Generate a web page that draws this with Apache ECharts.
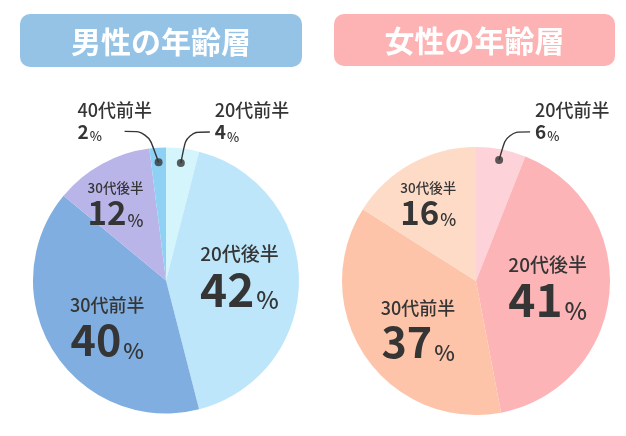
<!DOCTYPE html>
<html>
<head>
<meta charset="utf-8">
<script src="https://cdn.jsdelivr.net/npm/echarts@6/dist/echarts.min.js"></script>
<style>
html,body{margin:0;padding:0;background:#ffffff;}
#c{width:626px;height:436px;}
</style>
</head>
<body>
<div id="c"></div>
<script>
// ---------- DATA ----------
const chartTitles = ['男性の年齢層', '女性の年齢層'];
const maleCategories = ['20代前半', '20代後半', '30代前半', '30代後半', '40代前半'];
const maleValues = [4, 42, 40, 12, 2];
const femaleCategories = ['20代前半', '20代後半', '30代前半', '30代後半'];
const femaleValues = [6, 41, 37, 16];

// ---------- STYLES ----------
const FONT = '"Noto Sans CJK JP", "Noto Sans", sans-serif';
const TEXT = '#353535';
const maleColors = ['#d3f5fb', '#bde6fa', '#80aee0', '#b9b5e9', '#8fd1f4'];
const femaleColors = ['#fdd2d9', '#fdb4b6', '#fdc4a9', '#fddbc7'];

const rich = {
  nbig: {fontFamily: FONT, fontSize: 19, fontWeight: 500, lineHeight: 24, color: TEXT},
  vbig: {fontFamily: FONT, fontSize: 46, fontWeight: 'bold', lineHeight: 46, color: TEXT},
  pbig: {fontFamily: FONT, fontSize: 24, fontWeight: 500, lineHeight: 29.3, verticalAlign: 'bottom', padding: [0, 0, 0, 2], color: TEXT},
  nmid: {fontFamily: FONT, fontSize: 18, fontWeight: 500, lineHeight: 24, color: TEXT},
  vmid: {fontFamily: FONT, fontSize: 43, fontWeight: 'bold', lineHeight: 44, color: TEXT},
  pmid: {fontFamily: FONT, fontSize: 22, fontWeight: 500, lineHeight: 28, verticalAlign: 'bottom', padding: [0, 0, 0, 2], color: TEXT},
  nsmall: {fontFamily: FONT, fontSize: 13.5, fontWeight: 500, lineHeight: 17, color: TEXT},
  vsmall: {fontFamily: FONT, fontSize: 33, fontWeight: 'bold', lineHeight: 32, color: TEXT},
  psmall: {fontFamily: FONT, fontSize: 17, fontWeight: 500, lineHeight: 19.8, verticalAlign: 'bottom', padding: [0, 0, 0, 1], color: TEXT},
  nout: {fontFamily: FONT, fontSize: 18, fontWeight: 500, lineHeight: 21, color: TEXT},
  vout: {fontFamily: FONT, fontSize: 19, fontWeight: 'bold', lineHeight: 22, color: TEXT},
  pout: {fontFamily: FONT, fontSize: 13, fontWeight: 500, lineHeight: 17.4, verticalAlign: 'bottom', padding: [0, 0, 0, 1], color: TEXT}
};

const charts = [
  {
    title: chartTitles[0], cats: maleCategories, vals: maleValues, colors: maleColors,
    titleColor: '#95c3e6', box: [20, 14, 282, 53], center: [166, 280.5], r: 133, dotRatio: 0.89,
    labels: [
      {kind: 'out', rise: 31, bend: 6, run: 29, tx: 34},
      {kind: 'big', dx: 4, dy: -4.5},
      {kind: 'mid', dx: 0, dy: 8},
      {kind: 'small', dx: -17, dy: -16.5},
      {kind: 'out', rise: 31, bend: -11, run: -34, tx: -81}
    ]
  },
  {
    title: chartTitles[1], cats: femaleCategories, vals: femaleValues, colors: femaleColors,
    titleColor: '#fdb2b4', box: [334, 14, 281, 52], center: [476, 281], r: 134, dotRatio: 0.92,
    labels: [
      {kind: 'out', rise: 28, bend: 8, run: 31, tx: 36},
      {kind: 'big', dx: 2, dy: -1},
      {kind: 'mid', dx: 0, dy: 8},
      {kind: 'small', dx: -14, dy: -17}
    ]
  }
];

function fmt(kind, name, value) {
  const k = kind === 'out' ? 'out' : kind;
  return '{n' + k + '|' + name + '}\n{v' + k + '|' + value + '}{p' + k + '|%}';
}

const series = [];
const polar = [], angleAxis = [], radiusAxis = [];
const graphic = [];

charts.forEach((cfg, ci) => {
  const total = cfg.vals.reduce((a, b) => a + b, 0);
  // main pie
  series.push({
    type: 'pie',
    center: cfg.center,
    radius: cfg.r,
    startAngle: 90,
    clockwise: true,
    silent: true,
    animation: false,
    avoidLabelOverlap: false,
    emphasis: {disabled: true},
    z: 2,
    label: {
      show: true, position: 'inside',
      formatter: p => fmt(cfg.labels[p.dataIndex].kind, p.name, p.value),
      rich: rich
    },
    labelLine: {show: false},
    labelLayout: p => {
      const L = cfg.labels[p.dataIndex];
      if (!L || L.kind === 'out') return {};
      const rc = p.labelRect;
      return {x: rc.x + rc.width / 2 + L.dx, y: rc.y + rc.height / 2 + L.dy, align: 'center', verticalAlign: 'middle'};
    },
    data: cfg.cats.map((c, i) => ({
      name: c, value: cfg.vals[i],
      itemStyle: {color: cfg.colors[i]},
      label: {show: cfg.labels[i].kind !== 'out'}
    }))
  });
  // invisible inner pie to carry the leader lines of small slices
  series.push({
    type: 'pie',
    center: cfg.center,
    radius: cfg.r * cfg.dotRatio,
    startAngle: 90,
    clockwise: true,
    silent: true,
    animation: false,
    avoidLabelOverlap: false,
    emphasis: {disabled: true},
    z: 3,
    itemStyle: {color: 'rgba(0,0,0,0)', borderWidth: 0},
    label: {
      show: true, position: 'outside', alignTo: 'none',
      formatter: p => fmt('out', p.name, p.value),
      rich: rich
    },
    labelLine: {show: true, length: 20, length2: 20, smooth: 0.35, lineStyle: {color: TEXT, width: 1.4}},
    labelLayout: p => {
      const L = cfg.labels[p.dataIndex];
      if (!L || L.kind !== 'out' || !p.labelLinePoints) return {};
      const s = p.labelLinePoints[0];
      const ly = s[1] - L.rise;
      return {
        labelLinePoints: [s, [s[0] + L.bend, ly], [s[0] + L.run, ly]],
        x: s[0] + L.tx, y: ly - 10.5, align: 'left', verticalAlign: 'middle'
      };
    },
    data: cfg.cats.map((c, i) => {
      const out = cfg.labels[i].kind === 'out';
      return {
        name: c, value: cfg.vals[i],
        label: {show: out},
        labelLine: {show: out}
      };
    })
  });
  // polar system for the anchor dots
  polar.push({center: cfg.center, radius: cfg.r});
  angleAxis.push({polarIndex: ci, type: 'value', min: 0, max: total, startAngle: 90, clockwise: true, show: false});
  radiusAxis.push({polarIndex: ci, type: 'value', min: 0, max: 1, show: false});
  let cum = 0;
  const dots = [];
  cfg.vals.forEach((v, i) => {
    if (cfg.labels[i].kind === 'out') dots.push([cfg.dotRatio, cum + v / 2]);
    cum += v;
  });
  series.push({
    type: 'scatter', coordinateSystem: 'polar', polarIndex: ci,
    data: dots, symbol: 'circle', symbolSize: 8,
    itemStyle: {color: TEXT}, silent: true, animation: false, z: 5
  });
  // title box
  const b = cfg.box;
  graphic.push({
    type: 'group',
    children: [
      {type: 'rect', shape: {x: b[0], y: b[1], width: b[2], height: b[3], r: 10}, style: {fill: cfg.titleColor}},
      {type: 'text', x: b[0] + b[2] / 2, y: b[1] + b[3] / 2 + 1,
        style: {text: cfg.title, fill: '#ffffff', fontFamily: FONT, fontSize: 30, fontWeight: 'bold',
          align: 'center', verticalAlign: 'middle', textAlign: 'center', textVerticalAlign: 'middle'}}
    ]
  });
});

const chart = echarts.init(document.getElementById('c'), null, {renderer: 'canvas'});
chart.setOption({
  backgroundColor: '#ffffff',
  animation: false,
  textStyle: {fontFamily: FONT},
  polar: polar,
  angleAxis: angleAxis,
  radiusAxis: radiusAxis,
  graphic: graphic,
  series: series
});
</script>
</body>
</html>
